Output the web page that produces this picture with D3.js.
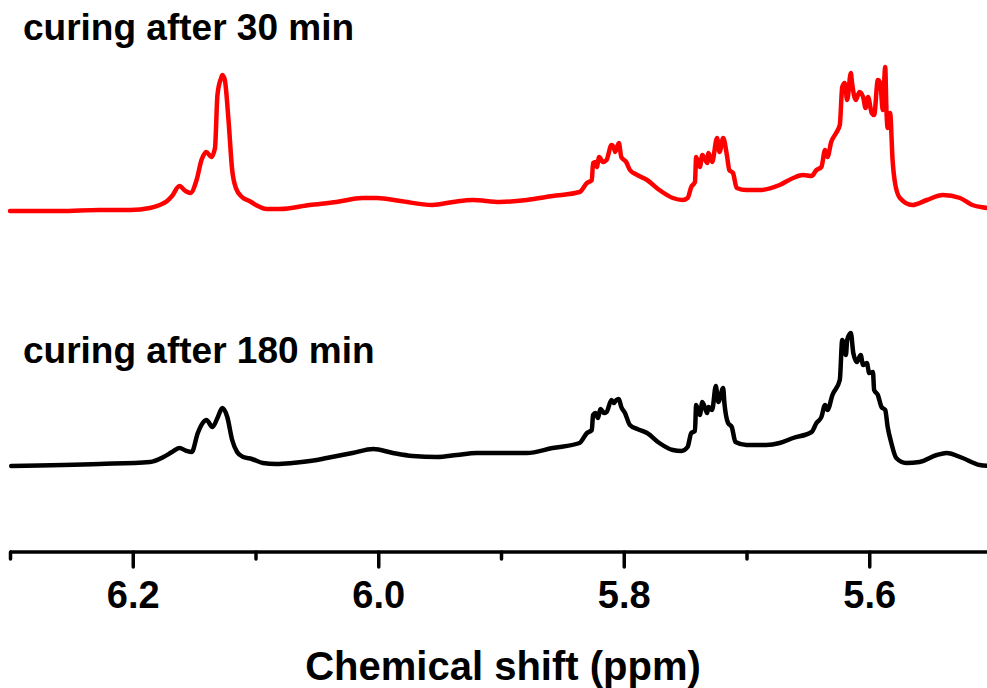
<!DOCTYPE html>
<html>
<head>
<meta charset="utf-8">
<script src="https://cdn.jsdelivr.net/npm/d3@7"></script>
<style>
    body { margin: 0; background: #fff; }
    svg { display: block; font-family: "Liberation Sans", Arial, sans-serif; }
    .lbl { font-weight: bold; fill: #000; }
</style>
</head>
<body>
<div id="vis"></div>
<script>
// chemical shift (ppm) vs intensity (a.u.)
var ppm30 = [6.300, 6.259, 6.227, 6.202, 6.186, 6.178, 6.172, 6.168, 6.162, 6.157, 6.153, 6.148, 6.144, 6.140, 6.136, 6.133,
    6.131, 6.128, 6.127, 6.125, 6.122, 6.119, 6.116, 6.111, 6.105, 6.098, 6.091, 6.080, 6.056, 6.034, 6.013, 6.001,
    5.982, 5.956, 5.939, 5.923, 5.901, 5.879, 5.858, 5.836, 5.830, 5.826, 5.825, 5.823, 5.822, 5.820, 5.817, 5.814,
    5.810, 5.808, 5.807, 5.804, 5.802, 5.798, 5.795, 5.789, 5.781, 5.771, 5.760, 5.752, 5.748, 5.745, 5.742, 5.741,
    5.738, 5.736, 5.732, 5.731, 5.728, 5.724, 5.722, 5.719, 5.716, 5.714, 5.711, 5.708, 5.700, 5.689, 5.673, 5.662,
    5.654, 5.647, 5.643, 5.639, 5.636, 5.634, 5.631, 5.627, 5.624, 5.622, 5.620, 5.618, 5.615, 5.614, 5.611, 5.608,
    5.605, 5.603, 5.601, 5.598, 5.596, 5.593, 5.591, 5.589, 5.587, 5.586, 5.585, 5.583, 5.581, 5.579, 5.575, 5.565,
    5.553, 5.540, 5.526, 5.516, 5.504, 5.500];
var int30 = [1, 1, 2, 2, 4, 7, 11, 16, 26, 21, 19, 32, 52, 60, 55, 64,
    117, 134, 137, 132, 92, 42, 24, 15, 11, 6, 3, 3, 7, 10, 14, 14,
    11, 7, 10, 12, 10, 12, 16, 20, 29, 32, 49, 50, 45, 55, 50, 52,
    67, 64, 60, 69, 55, 50, 42, 37, 32, 22, 14, 12, 14, 25, 30, 55,
    45, 57, 49, 59, 50, 74, 60, 74, 57, 42, 39, 24, 22, 22, 27, 34,
    37, 36, 42, 45, 62, 55, 70, 79, 87, 125, 129, 112, 139, 129, 112, 120,
    115, 104, 115, 99, 97, 132, 129, 102, 145, 102, 84, 99, 52, 29, 14, 7,
    12, 17, 14, 7, 4, 3];

var ppm180 = [6.299, 6.227, 6.186, 6.175, 6.168, 6.162, 6.156, 6.152, 6.147, 6.143, 6.140, 6.135, 6.131, 6.127, 6.123, 6.119,
    6.115, 6.110, 6.103, 6.094, 6.083, 6.070, 6.050, 6.042, 6.021, 6.004, 5.988, 5.972, 5.952, 5.936, 5.920, 5.901,
    5.879, 5.858, 5.836, 5.830, 5.826, 5.825, 5.823, 5.821, 5.819, 5.816, 5.814, 5.810, 5.808, 5.806, 5.804, 5.802,
    5.799, 5.795, 5.789, 5.781, 5.771, 5.760, 5.753, 5.748, 5.745, 5.742, 5.741, 5.738, 5.736, 5.732, 5.731, 5.728,
    5.725, 5.723, 5.719, 5.718, 5.715, 5.712, 5.709, 5.700, 5.684, 5.673, 5.662, 5.647, 5.643, 5.639, 5.636, 5.634,
    5.630, 5.624, 5.622, 5.619, 5.618, 5.615, 5.613, 5.610, 5.607, 5.605, 5.602, 5.600, 5.597, 5.596, 5.593, 5.590,
    5.587, 5.585, 5.582, 5.578, 5.570, 5.559, 5.545, 5.537, 5.524, 5.510, 5.500];
var int180 = [1, 3, 5, 10, 15, 19, 16, 15, 34, 44, 47, 40, 49, 59, 50, 27,
    15, 10, 8, 4, 3, 4, 7, 9, 14, 18, 14, 11, 10, 12, 14, 14,
    14, 19, 24, 34, 37, 52, 54, 49, 58, 54, 55, 67, 64, 67, 68, 60,
    54, 42, 38, 34, 24, 17, 16, 20, 34, 36, 62, 52, 65, 54, 60, 57,
    81, 65, 79, 64, 44, 40, 25, 22, 22, 24, 29, 35, 44, 50, 62, 57,
    72, 87, 127, 112, 127, 134, 114, 105, 112, 102, 104, 94, 95, 77, 72, 60,
    57, 40, 24, 9, 4, 5, 12, 14, 9, 2, 1];

var seriesNames = ["curing after 30 min", "curing after 180 min"];
var seriesColors = ["#ff0000", "#000000"];
var seriesOffsets = [255, 0];

var majorTicks = [6.2, 6.0, 5.8, 5.6];
var minorTicks = [6.3, 6.1, 5.9, 5.7, 5.5];
var xTitle = "Chemical shift (ppm)";

var width = 987, height = 688;

var x = d3.scaleLinear().domain([6.3, 5.5]).range([10, 992]);
var y = d3.scaleLinear().domain([0, 500]).range([467, -33]);

var svg = d3.select('#vis').append('svg')
    .attr('width', width)
    .attr('height', height);

var series = [
    { name: seriesNames[0], color: seriesColors[0], offset: seriesOffsets[0], values: d3.zip(ppm30, int30) },
    { name: seriesNames[1], color: seriesColors[1], offset: seriesOffsets[1], values: d3.zip(ppm180, int180) }
];

var line = d3.line()
    .curve(d3.curveMonotoneX)
    .x(d => x(d[0]))
    .y(d => y(d[1]));

series.forEach(function (s) {
    var pts = s.values.map(d => [d[0], d[1] + s.offset]);
    // monotoneX wants increasing x in screen space
    pts.sort((a, b) => x(a[0]) - x(b[0]));
    svg.append('path')
        .datum(pts)
        .attr('fill', 'none')
        .attr('stroke', s.color)
        .attr('stroke-width', 4.5)
        .attr('stroke-linejoin', 'round')
        .attr('stroke-linecap', 'round')
        .attr('d', line);
});

// series labels
svg.append('text').attr('class', 'lbl')
    .attr('x', 23).attr('y', 40)
    .style('font-size', '37px')
    .text(seriesNames[0]);
svg.append('text').attr('class', 'lbl')
    .attr('x', 23).attr('y', 363)
    .style('font-size', '37px')
    .text(seriesNames[1]);

// x axis
var axisY = 552;
var gMinor = svg.append('g')
    .attr('transform', 'translate(0,' + axisY + ')')
    .call(d3.axisBottom(x).tickValues(minorTicks).tickSize(7).tickFormat(''));
var gMajor = svg.append('g')
    .attr('transform', 'translate(0,' + axisY + ')')
    .call(d3.axisBottom(x).tickValues(majorTicks).tickSize(15).tickPadding(14).tickFormat(d3.format('.1f')));

[gMinor, gMajor].forEach(function (g) {
    g.select('.domain').attr('stroke', '#000').attr('stroke-width', 3.5);
    g.selectAll('.tick line').attr('stroke', '#000').attr('stroke-width', 3.5).attr('stroke-linecap', 'round');
});
gMinor.select('.domain').remove();
gMajor.select('.domain').attr('d', 'M' + x(6.3) + ',0H' + x(5.5));
gMajor.selectAll('.tick text')
    .attr('fill', '#000')
    .style('font-family', '"Liberation Sans", Arial, sans-serif')
    .style('font-size', '38px')
    .style('font-weight', 'bold');

svg.append('text').attr('class', 'lbl')
    .attr('x', 503).attr('y', 680)
    .attr('text-anchor', 'middle')
    .style('font-size', '40px')
    .text(xTitle);
</script>
</body>
</html>
